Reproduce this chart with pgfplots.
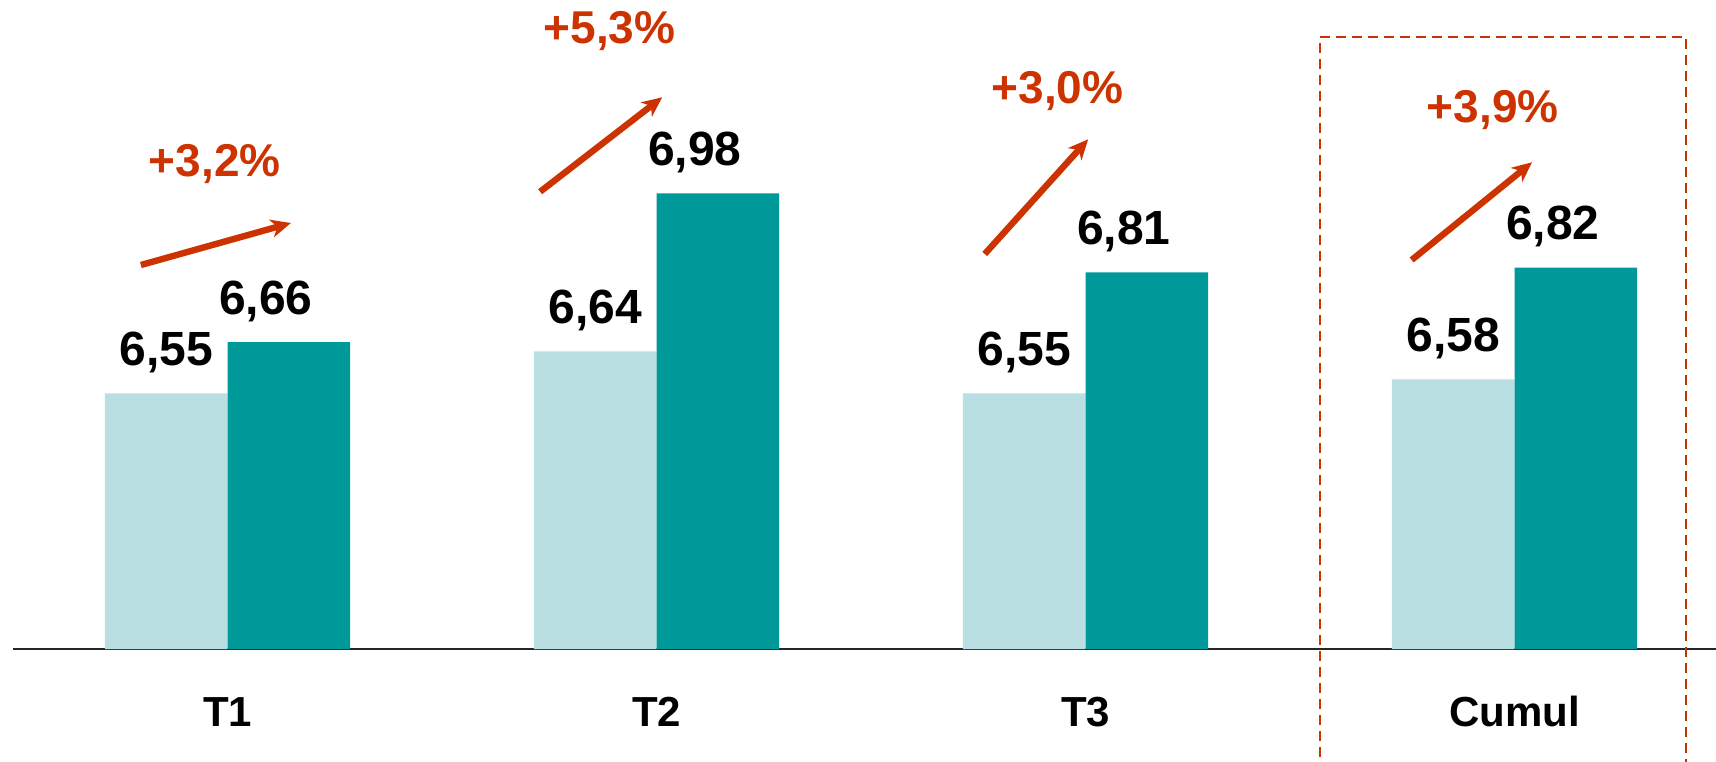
\documentclass[border=0pt]{standalone}
\usepackage{pgfplots}
\pgfplotsset{compat=1.18}
\usepackage{fontspec}
\setmainfont{Liberation Sans}
\usetikzlibrary{arrows.meta}
\definecolor{lightbar}{HTML}{BADFE2}
\definecolor{darkbar}{HTML}{009999}
\definecolor{accent}{HTML}{CC3300}
\begin{document}
\begin{tikzpicture}
\begin{axis}[
  at={(0pt,0pt)}, anchor=south west,
  scale only axis, width=851.5pt, height=324.5pt,
  xmin=-0.5, xmax=3.4695, ymin=6, ymax=7.3957,
  clip=false,
  hide y axis,
  axis x line*=bottom,
  x axis line style={line width=1pt, color=black!85},
  major tick length=0pt,
  xtick={0,1,2,3},
  xticklabels={T1,T2,T3,Cumul},
  xticklabel style={font=\fontsize{21}{25}\selectfont\bfseries, anchor=base, yshift=-38.5pt},
  ybar=0pt, bar width=61.3pt,
  /pgf/number format/assume math mode=true,
  nodes near coords={\pgfmathprintnumber[fixed, fixed zerofill, precision=2, use comma]{\pgfplotspointmeta}},
  every node near coord/.append style={font=\fontsize{24}{28}\selectfont\bfseries, black, anchor=base, yshift=14pt},
]
\addplot[fill=lightbar, draw=none] coordinates {(0,6.55) (1,6.64) (2,6.55) (3,6.58)};
\addplot[fill=darkbar, draw=none, every node near coord/.append style={xshift=-11.5pt}] coordinates {(0,6.66) (1,6.98) (2,6.81) (3,6.82)};

% growth arrows
\draw[accent, line width=3.2pt, -{Stealth[length=10pt,width=9pt,inset=3pt]}] (axis cs:-0.2019,6.8258) -- (axis cs:0.1478,6.9161);
\draw[accent, line width=3.2pt, -{Stealth[length=10pt,width=9pt,inset=3pt]}] (axis cs:0.7287,6.9834) -- (axis cs:1.0133,7.1865);
\draw[accent, line width=3.2pt, -{Stealth[length=10pt,width=9pt,inset=3pt]}] (axis cs:1.7650,6.8495) -- (axis cs:2.0061,7.0961);
\draw[accent, line width=3.2pt, -{Stealth[length=10pt,width=9pt,inset=3pt]}] (axis cs:2.7601,6.8366) -- (axis cs:3.0408,7.0467);

% growth labels
\node[accent, font=\fontsize{23}{27}\selectfont\bfseries, anchor=base] at (axis cs:-0.0298,7.0157) {+3,2\%};
\node[accent, font=\fontsize{23}{27}\selectfont\bfseries, anchor=base] at (axis cs:0.8902,7.3011) {+5,3\%};
\node[accent, font=\fontsize{23}{27}\selectfont\bfseries, anchor=base] at (axis cs:1.9348,7.1735) {+3,0\%};
\node[accent, font=\fontsize{23}{27}\selectfont\bfseries, anchor=base] at (axis cs:2.9490,7.1318) {+3,9\%};

% dashed frame around Cumul
\draw[accent, line width=1pt, dash pattern=on 5pt off 3pt] (axis cs:2.5464,5.70) -- (axis cs:2.5464,7.3168) -- (axis cs:3.3995,7.3168) -- (axis cs:3.3995,5.70);
\end{axis}
\pgfresetboundingbox
\path[use as bounding box] (-6.5pt,-56pt) rectangle (851.5pt,324.5pt);
\end{tikzpicture}
\end{document}
